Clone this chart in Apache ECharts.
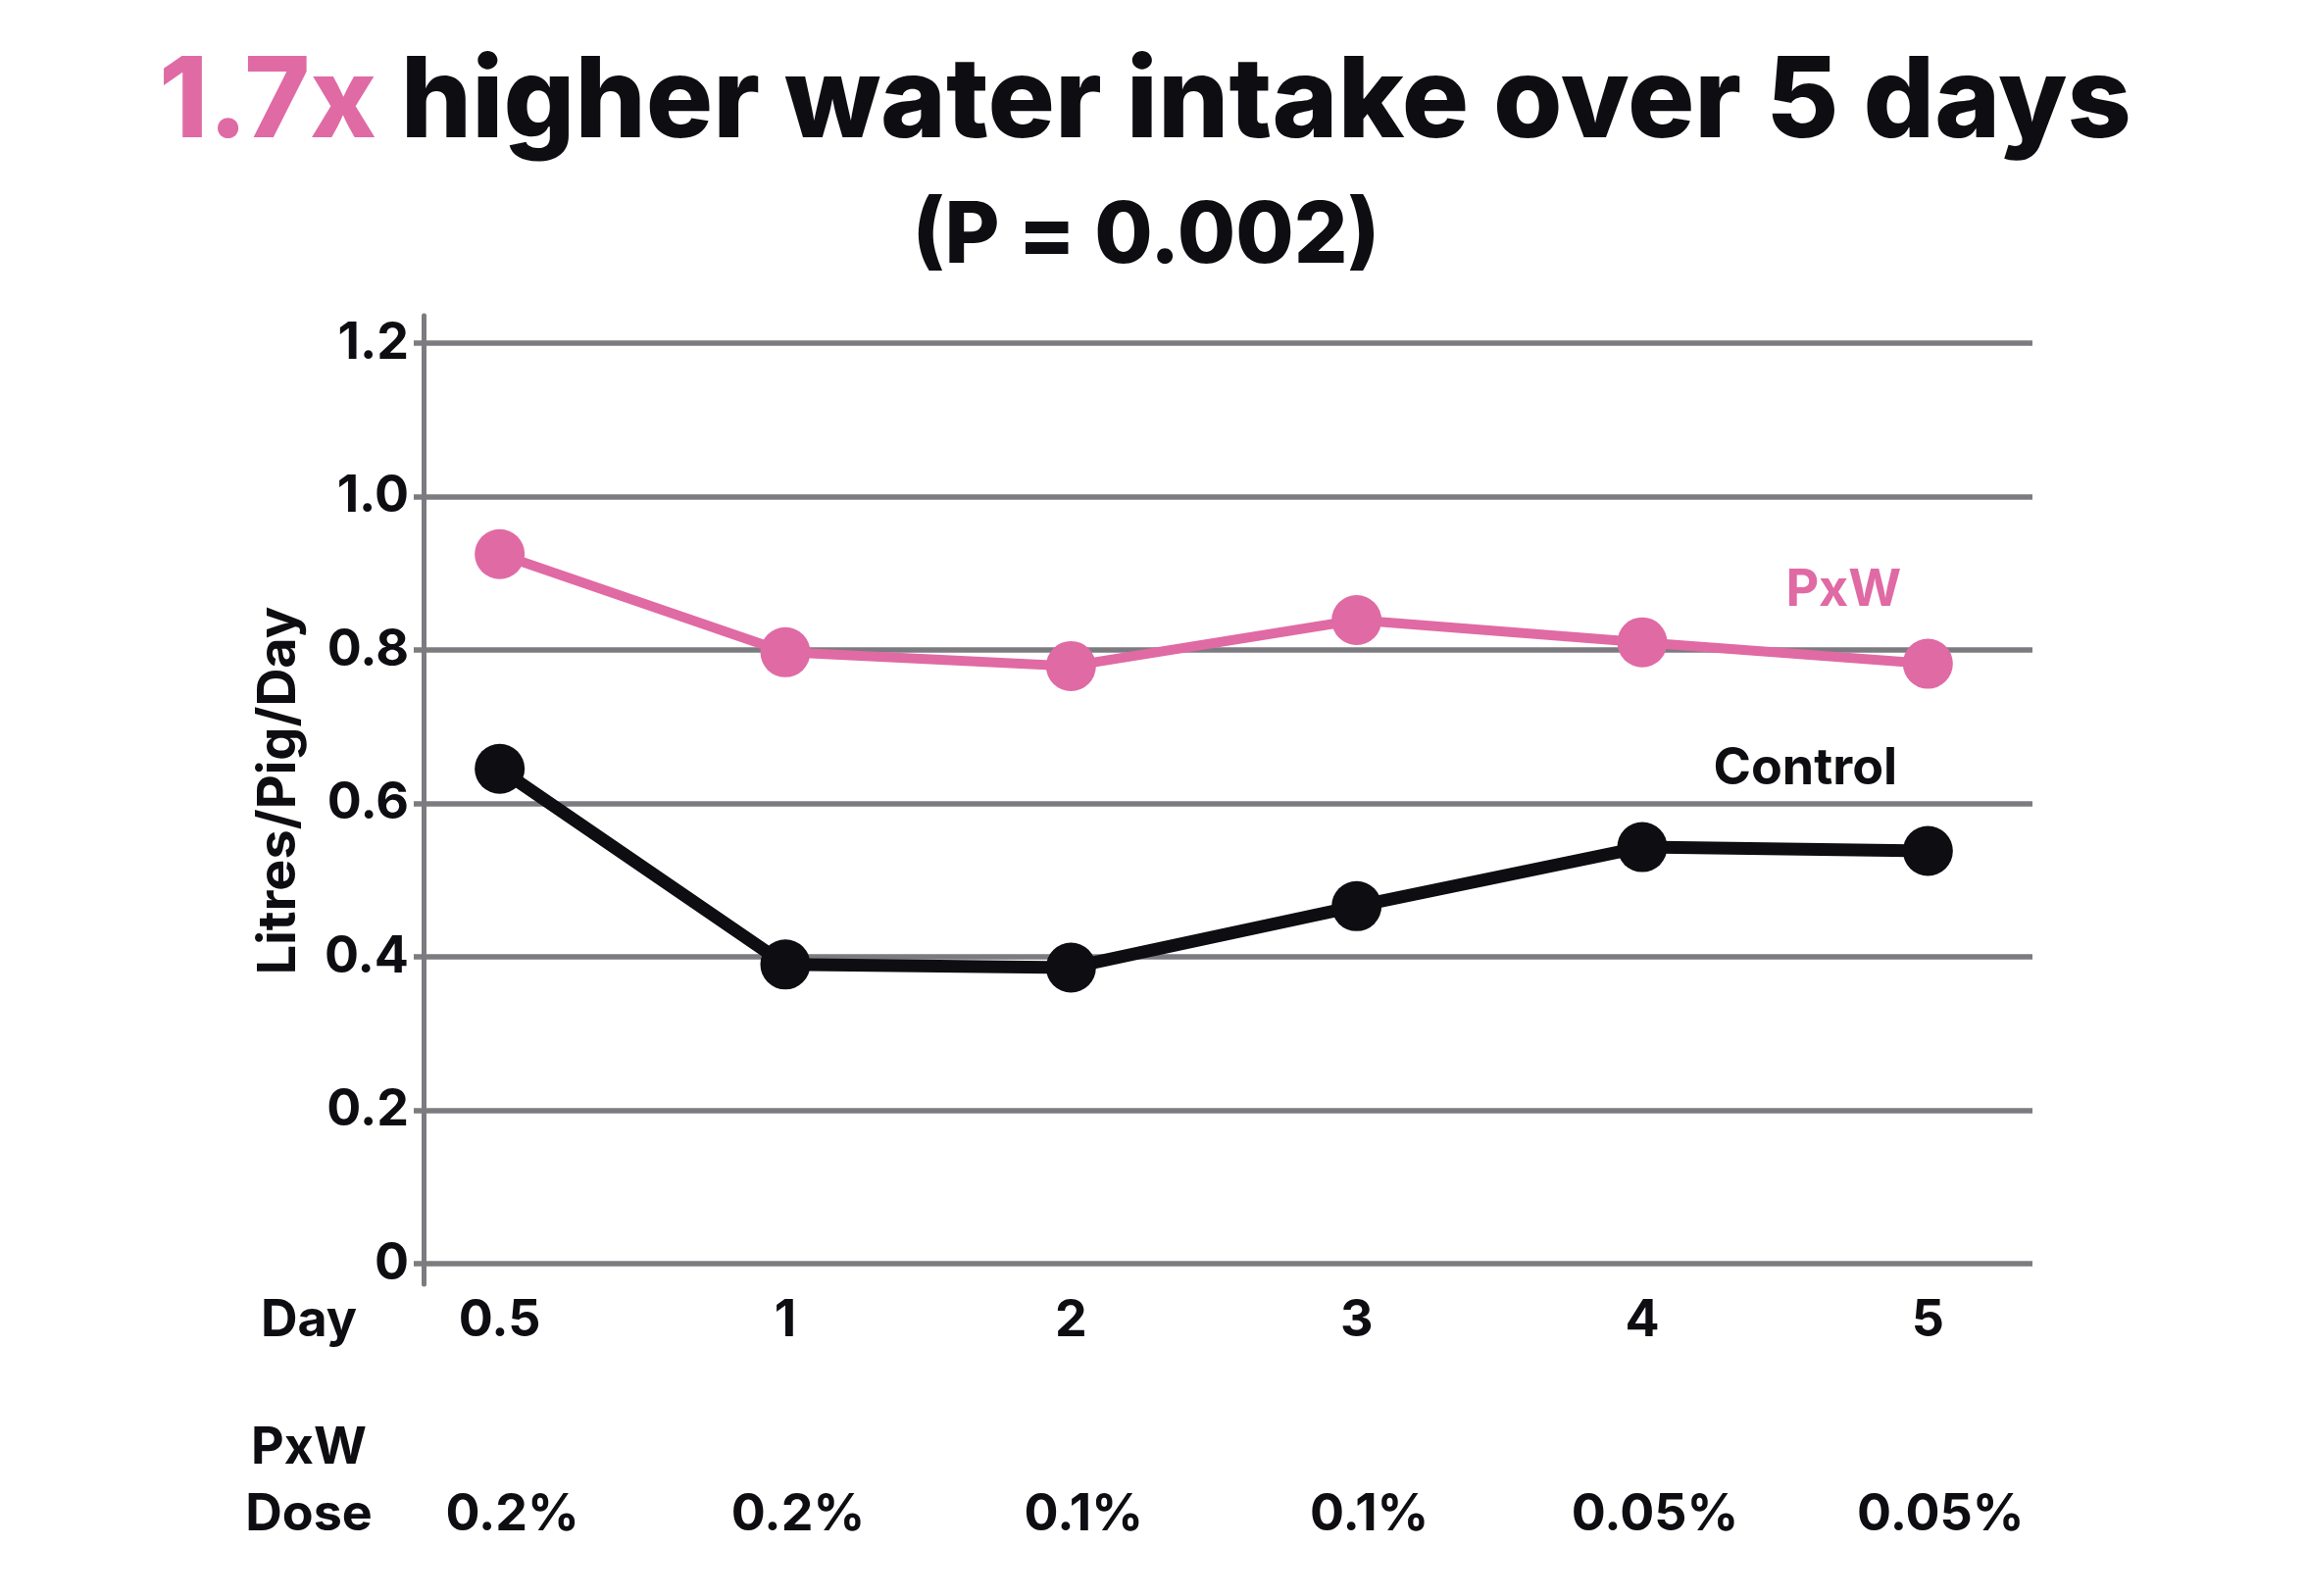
<!DOCTYPE html>
<html>
<head>
<meta charset="utf-8">
<title>Water intake</title>
<script src="https://cdn.jsdelivr.net/npm/echarts@6/dist/echarts.min.js"></script>
<style>
  html, body { margin: 0; padding: 0; background: #fff; }
  #chart { width: 2352px; height: 1628px; }
</style>
</head>
<body>
<div id="chart"></div>
<script>
'use strict';

// chart data
const days = ['0.5', '1', '2', '3', '4', '5'];
const doses = ['0.2%', '0.2%', '0.1%', '0.1%', '0.05%', '0.05%'];
const pxwValues = [0.925, 0.797, 0.779, 0.839, 0.81, 0.782];
const controlValues = [0.645, 0.39, 0.386, 0.466, 0.543, 0.538];
const yMin = 0;
const yMax = 1.2;
const yStep = 0.2;

const pink = '#e06aa4';
const ink = '#0e0d12';
const gray = '#7c7c80';
const font = 'Inter';

// last point carries the series name
function withEndLabel(values, name, color, offset) {
  return values.map((v, i) => {
    if (i !== values.length - 1) return v;
    return {
      value: v,
      label: {
        show: true,
        formatter: name,
        position: 'inside',
        offset: offset,
        color: color,
        fontFamily: font,
        fontWeight: 'bold',
        fontSize: 52
      }
    };
  });
}

const chart = echarts.init(document.getElementById('chart'), null, { renderer: 'canvas' });

const plotTop = 350;
const plotBottom = 339;
const labelStyle = { color: ink, fontFamily: font, fontWeight: 'bold', fontSize: 52 };

chart.setOption({
  backgroundColor: '#ffffff',
  animation: false,
  title: [
    {
      text: '{p|1.7x} higher water intake over 5 days',
      left: 1163, textAlign: 'center',
      top: 34,
      textStyle: {
        fontFamily: font, fontWeight: 800, fontSize: 114, color: ink, lineHeight: 134,
        rich: { p: { fontFamily: font, fontWeight: 800, fontSize: 114, color: pink, lineHeight: 134 } }
      }
    },
    {
      text: '(P = 0.002)',
      left: 1164, textAlign: 'center',
      top: 182,
      textStyle: { fontFamily: font, fontWeight: 800, fontSize: 86, color: ink, lineHeight: 110 }
    }
  ],
  grid: [
    { left: 432, right: 279, top: plotTop, bottom: plotBottom },  // gridlines + y labels
    { left: 364, right: 240, top: plotTop, bottom: plotBottom },  // series + day/dose labels
    { left: 432, right: 279, top: 322, bottom: 318 }              // tall y axis line
  ],
  xAxis: [
    { type: 'value', gridIndex: 0, show: false },
    {
      type: 'category', gridIndex: 1, data: days, boundaryGap: true,
      axisLine: { show: false }, axisTick: { show: false },
      axisLabel: Object.assign({ margin: 32 }, labelStyle)
    },
    {
      type: 'category', gridIndex: 1, data: doses, boundaryGap: true, position: 'bottom', offset: 198,
      axisLine: { show: false }, axisTick: { show: false },
      axisLabel: Object.assign({ margin: 32, padding: [0, 0, 0, 26] }, labelStyle)
    },
    { type: 'value', gridIndex: 2, show: false }
  ],
  yAxis: [
    {
      type: 'value', gridIndex: 0, min: yMin, max: yMax, interval: yStep,
      name: 'Litres/Pig/Day', nameLocation: 'middle', nameGap: 120, nameRotate: 90,
      nameTextStyle: { color: ink, fontFamily: font, fontWeight: 'bold', fontSize: 54, padding: [0, 0, 0, 26] },
      axisLine: { show: false },
      axisTick: { show: true, length: 10, lineStyle: { color: gray, width: 5.5 } },
      splitLine: { show: true, lineStyle: { color: gray, width: 5.5 } },
      axisLabel: Object.assign({
        margin: 15,
        formatter: v => (v === 0 ? '0' : v.toFixed(1))
      }, labelStyle)
    },
    { type: 'value', gridIndex: 1, min: yMin, max: yMax, show: false },
    {
      type: 'value', gridIndex: 2, min: 0, max: 1,
      axisLine: { show: true, lineStyle: { color: gray, width: 5 } },
      axisTick: { show: false }, axisLabel: { show: false }, splitLine: { show: false }
    }
  ],
  graphic: [
    { type: 'text', x: 315, y: 1347, style: { text: 'Day', align: 'center', verticalAlign: 'middle', fill: ink, font: `bold 52px ${font}` } },
    { type: 'text', x: 315, y: 1477, style: { text: 'PxW', align: 'center', verticalAlign: 'middle', fill: ink, font: `bold 52px ${font}` } },
    { type: 'text', x: 315, y: 1545, style: { text: 'Dose', align: 'center', verticalAlign: 'middle', fill: ink, font: `bold 52px ${font}` } }
  ],
  series: [
    {
      name: 'PxW', type: 'line', xAxisIndex: 1, yAxisIndex: 1,
      data: withEndLabel(pxwValues, 'PxW', pink, [-86, -75]),
      symbol: 'circle', symbolSize: 51,
      lineStyle: { color: pink, width: 10 },
      itemStyle: { color: pink },
      z: 3
    },
    {
      name: 'Control', type: 'line', xAxisIndex: 1, yAxisIndex: 1,
      data: withEndLabel(controlValues, 'Control', ink, [-125, -84]),
      symbol: 'circle', symbolSize: 51,
      lineStyle: { color: ink, width: 13 },
      itemStyle: { color: ink },
      z: 3
    }
  ]
});
</script>
</body>
</html>
